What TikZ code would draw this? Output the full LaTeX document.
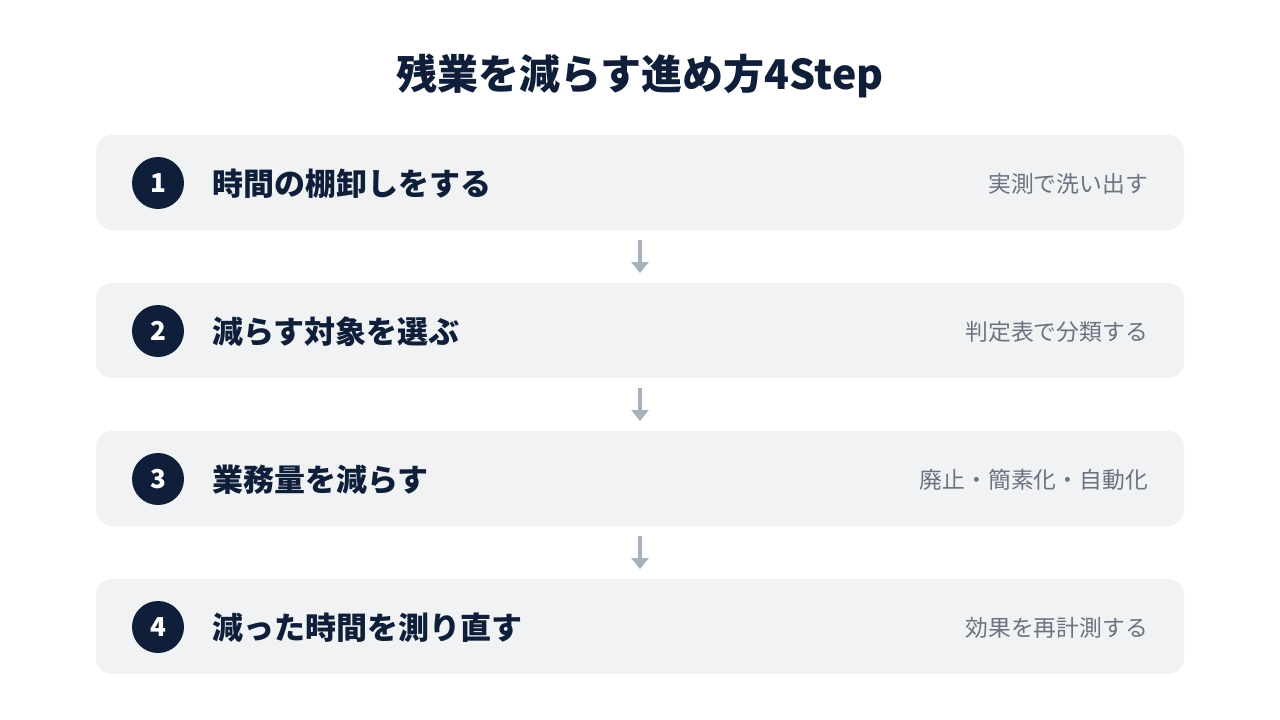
\documentclass[tikz,border=0pt]{standalone}
\usepackage{fontspec}
\newfontfamily\jp{Noto Sans CJK JP}
\usetikzlibrary{arrows.meta}
\definecolor{navy}{HTML}{0F1F3A}
\definecolor{boxbg}{HTML}{F0F2F4}
\definecolor{subgray}{HTML}{6B7280}
\definecolor{arrowc}{HTML}{A8B1BE}
\tikzset{
  stepbox/.style={fill=boxbg, rounded corners=16pt},
  numcirc/.style={circle, fill=navy, minimum size=52pt, inner sep=0pt, text=white, font=\jp\bfseries\fontsize{26}{26}\selectfont},
  maintext/.style={anchor=base west, inner sep=0pt, text=navy, font=\jp\bfseries\fontsize{31}{31}\selectfont},
  subtext/.style={anchor=base east, inner sep=0pt, text=subgray, font=\jp\fontsize{22.8}{22.8}\selectfont},
  flowarrow/.style={draw=arrowc, line width=3.5pt, -{Triangle[length=11pt,width=17pt]}}
}
\begin{document}
\begin{tikzpicture}[x=1pt,y=-1pt]
\useasboundingbox[fill=white] (0,0) rectangle (1280,720);
\node[anchor=base, inner sep=0pt, text=navy, font=\jp\bfseries\fontsize{41}{41}\selectfont] (title) at (640,89) {残業を減らす進め方4Step};
% boxes
\foreach \i/\y in {1/135,2/283,3/431,4/579}{
  \fill[stepbox] (96,\y) rectangle (1184,\y+95);
}
\node[numcirc] (c1) at (158,183) {1};
\node[numcirc] (c2) at (158,331) {2};
\node[numcirc] (c3) at (158,479) {3};
\node[numcirc] (c4) at (158,627) {4};
\node[maintext] (m1) at (212,195) {時間の棚卸しをする};
\node[maintext] (m2) at (212,343) {減らす対象を選ぶ};
\node[maintext] (m3) at (212,491) {業務量を減らす};
\node[maintext] (m4) at (212,639) {減った時間を測り直す};
\node[subtext] (s1) at (1148,192) {実測で洗い出す};
\node[subtext] (s2) at (1148,340) {判定表で分類する};
\node[subtext] (s3) at (1148,488) {廃止・簡素化・自動化};
\node[subtext] (s4) at (1148,636) {効果を再計測する};
\coordinate (a1s) at (640,240); \coordinate (a1e) at (640,273);
\coordinate (a2s) at (640,388); \coordinate (a2e) at (640,421);
\coordinate (a3s) at (640,536); \coordinate (a3e) at (640,569);
\draw[flowarrow] (a1s) -- (a1e);
\draw[flowarrow] (a2s) -- (a2e);
\draw[flowarrow] (a3s) -- (a3e);
\end{tikzpicture}
\end{document}
